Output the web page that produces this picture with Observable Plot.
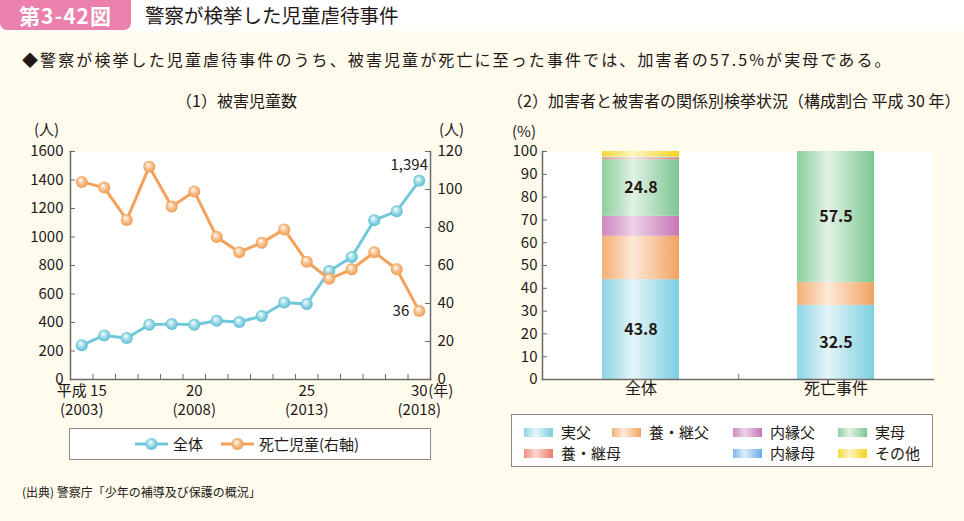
<!DOCTYPE html>
<html><head><meta charset="utf-8">
<script src="https://cdn.jsdelivr.net/npm/d3@7"></script>
<script src="https://cdn.jsdelivr.net/npm/@observablehq/plot@0.6"></script>
<style>
body{margin:0;width:964px;height:521px;background:#fffcee;font-family:"Noto Sans CJK JP","Noto Sans",sans-serif;position:relative;overflow:hidden;color:#231815}
.abs{position:absolute;white-space:nowrap;line-height:1}
#topband{left:0;top:0;width:964px;height:31px;background:#fff}
#badge{left:0;top:-6px;width:131px;height:36px;background:#ea80ab;border-radius:7px;color:#fff;font-weight:700;font-size:21px;letter-spacing:1px;text-align:center;line-height:42px}
#title{left:145px;top:5px;font-size:19.5px;font-weight:400}
#lead{left:22px;top:51px;font-size:16px;letter-spacing:2.1px}
.ptitle{font-size:16px;top:92px}
.unit{font-size:15px}
.legend{background:#fff;border:1px solid #8a8a8a;box-sizing:border-box}
.sw{position:absolute;width:29px;height:9px}
.lt{position:absolute;font-size:15px;line-height:1}
#src{left:22px;top:486px;font-size:12px}
</style></head>
<body>
<svg width="0" height="0" style="position:absolute">
 <defs id="defs"></defs>
</svg>
<div class="abs" id="topband"></div>
<div class="abs" id="badge">第3-42図</div>
<div class="abs" id="title">警察が検挙した児童虐待事件</div>
<div class="abs" id="lead">◆警察が検挙した児童虐待事件のうち、被害児童が死亡に至った事件では、加害者の57.5%が実母である。</div>
<div class="abs ptitle" style="left:176px">（1）被害児童数</div>
<div class="abs ptitle" style="left:507px">（2）加害者と被害者の関係別検挙状況（構成割合 平成 30 年）</div>
<div class="abs unit" style="left:34px;top:121px">(人)</div>
<div class="abs unit" style="left:439px;top:121px">(人)</div>
<div class="abs unit" style="left:512px;top:123px">(%)</div>
<div class="abs" id="left" style="left:0;top:110px"></div>
<div class="abs" id="right" style="left:490px;top:110px"></div>
<div class="abs legend" id="legL" style="left:69px;top:428px;width:362px;height:32px"></div>
<div class="abs legend" id="legR" style="left:511px;top:414px;width:422px;height:53px"></div>
<div class="abs" id="src">(出典) 警察庁「少年の補導及び保護の概況」</div>
<script>
// ---------- data ----------
const years = [2003,2004,2005,2006,2007,2008,2009,2010,2011,2012,2013,2014,2015,2016,2017,2018];
const totalVictims = [241,309,291,384,389,384,412,403,445,541,530,761,860,1118,1181,1394];
const deathVictims = [104,101,84,112,91,99,75,67,72,79,62,53,58,67,58,36];
const leftTicks = [0,200,400,600,800,1000,1200,1400,1600];
const rightTicks = [0,20,40,60,80,100,120];
const xLabelYears = [2003,2008,2013,2018];
const xLabelEra = ["平成 15","20","25","30"];
const xLabelWestern = ["(2003)","(2008)","(2013)","(2018)"];
const lineSeries = ["全体","死亡児童(右軸)"];

const groups = ["全体","死亡事件"];
const series = ["実父","養・継父","内縁父","実母","養・継母","内縁母","その他"];
const shareAll = [43.8,19.0,8.8,24.8,0.7,0.4,2.5];
const shareDeath = [32.5,10.0,0,57.5,0,0,0];
const pctTicks = [0,10,20,30,40,50,60,70,80,90,100];

// ---------- styles ----------
const seriesColors = {
  "実父":["#7ccee0","#e4f5f8"],
  "養・継父":["#f2a25f","#fde9d8"],
  "内縁父":["#c875b4","#edd2e8"],
  "実母":["#7cc791","#e2f2e5"],
  "養・継母":["#ec7a68","#fbd9d3"],
  "内縁母":["#68abe6","#deeefb"],
  "その他":["#f8d21a","#fdf4c2"]
};
const defs = document.getElementById("defs");
let defsHtml = "";
series.forEach((s,i)=>{
  const [c,l] = seriesColors[s];
  defsHtml += `<linearGradient id="g${i}" x1="0" x2="1" y1="0" y2="0"><stop offset="0" stop-color="${c}" stop-opacity="0.85"/><stop offset="0.4" stop-color="${l}"/><stop offset="1" stop-color="${c}"/></linearGradient>`;
});
defsHtml += `<radialGradient id="rb" cx="0.5" cy="0.5" r="0.55" fx="0.38" fy="0.32"><stop offset="0" stop-color="#ffffff"/><stop offset="0.45" stop-color="#a6dfea"/><stop offset="1" stop-color="#4fb8cf"/></radialGradient>`;
defsHtml += `<radialGradient id="ro" cx="0.5" cy="0.5" r="0.55" fx="0.38" fy="0.32"><stop offset="0" stop-color="#ffffff"/><stop offset="0.45" stop-color="#f9c796"/><stop offset="1" stop-color="#f0944a"/></radialGradient>`;
defs.innerHTML = defsHtml;
const gradOf = Object.fromEntries(series.map((s,i)=>[s,`url(#g${i})`]));

const font = `"Noto Sans CJK JP","Noto Sans",sans-serif`;
const axisColor = "#6b6b6b";
const blue = "#72c8da", orange = "#f4a25a";

// ---------- left chart ----------
const k = 1600/120;
const lineData = years.map((y,i)=>({year:y,total:totalVictims[i],death:deathVictims[i]}));
const boundaries = years.slice(0,-1).map(y=>y+0.5);
const LW = 480, LH = 310, lm = {l:70,r:50,t:41,b:41};
const lpw = LW-lm.l-lm.r, lph = LH-lm.t-lm.b;
const xl = xLabelYears.map((y,i)=>({year:y,era:xLabelEra[i],west:xLabelWestern[i]}));
const last = lineData[lineData.length-1];

const left = Plot.plot({
  width:LW,height:LH,marginLeft:lm.l,marginRight:lm.r,marginTop:lm.t,marginBottom:lm.b,
  style:{background:"transparent",fontFamily:font,fontSize:"15px",color:"#231815",overflow:"visible"},
  x:{domain:[years[0]-0.5,years[years.length-1]+0.5],axis:null},
  y:{domain:[0,1600],axis:null},
  marks:[
    Plot.frame({fill:"white",stroke:null}),
    Plot.tickX(boundaries,{x:d=>d,insetTop:lph-5,stroke:axisColor}),
    Plot.tickY(leftTicks,{y:d=>d,insetRight:lpw-5,stroke:axisColor}),
    Plot.tickY(rightTicks,{y:d=>d*k,insetLeft:lpw-5,stroke:axisColor}),
    Plot.frame({anchor:"left",stroke:axisColor,strokeWidth:1.5}),
    Plot.frame({anchor:"right",stroke:axisColor,strokeWidth:1.5}),
    Plot.frame({anchor:"bottom",stroke:axisColor,strokeWidth:1.5}),
    Plot.axisY({anchor:"left",ticks:leftTicks,tickFormat:d=>String(d),tickSize:0,tickPadding:7,fontSize:15,label:null}),
    Plot.axisY({anchor:"right",ticks:rightTicks.map(v=>v*k),tickFormat:v=>String(Math.round(v/k)),tickSize:0,tickPadding:7,fontSize:15,label:null}),
    Plot.text(xl,{x:"year",text:"era",frameAnchor:"bottom",dy:16,fontSize:15}),
    Plot.text(xl,{x:"year",text:"west",frameAnchor:"bottom",dy:35,fontSize:15}),
    Plot.text([xl[xl.length-1]],{x:"year",text:()=>"(年)",frameAnchor:"bottom",dy:16,dx:9,textAnchor:"start",fontSize:15}),
    Plot.line(lineData,{x:"year",y:"total",stroke:blue,strokeWidth:3}),
    Plot.dot(lineData,{x:"year",y:"total",r:6,fill:"url(#rb)",stroke:null}),
    Plot.line(lineData,{x:"year",y:d=>d.death*k,stroke:orange,strokeWidth:3}),
    Plot.dot(lineData,{x:"year",y:d=>d.death*k,r:6,fill:"url(#ro)",stroke:null}),
    Plot.text([last],{x:"year",y:"total",text:d=>d3.format(",")(d.total),dy:-16,dx:-10,fontSize:15}),
    Plot.text([last],{x:"year",y:d=>d.death*k,text:d=>String(d.death),dx:-10,textAnchor:"end",fontSize:15})
  ]
});
document.getElementById("left").append(left);

// ---------- right chart ----------
const rows = [];
groups.forEach((g,gi)=>{
  const vals = gi===0?shareAll:shareDeath;
  series.forEach((s,si)=>rows.push({group:g,series:s,value:vals[si]}));
});
const RW = 460, RH = 300, rm = {l:52,r:17,t:41,b:31};
const rpw = RW-rm.l-rm.r, rph = RH-rm.t-rm.b;
const pin = 0.606, pout = pin/2;
const step = rpw/(groups.length - pin + 2*pout);
const right = Plot.plot({
  width:RW,height:RH,marginLeft:rm.l,marginRight:rm.r,marginTop:rm.t,marginBottom:rm.b,
  style:{background:"transparent",fontFamily:font,fontSize:"15px",color:"#231815",overflow:"visible"},
  x:{domain:groups,paddingInner:pin,paddingOuter:pout,axis:null},
  y:{domain:[0,100],axis:null},
  marks:[
    Plot.frame({fill:"white",stroke:null}),
    Plot.barY(rows,Plot.stackY({x:"group",y:"value",z:"series",order:series,fill:d=>gradOf[d.series]})),
    Plot.tickY(pctTicks,{y:d=>d,insetRight:rpw-5,stroke:axisColor}),
    Plot.tickX([groups[0]],{x:d=>d,dx:step/2,insetTop:rph-5,stroke:axisColor}),
    Plot.frame({anchor:"left",stroke:axisColor,strokeWidth:1.5}),
    Plot.frame({anchor:"bottom",stroke:axisColor,strokeWidth:1.5}),
    Plot.axisY({anchor:"left",ticks:pctTicks,tickSize:0,tickPadding:5,fontSize:15,label:null}),
    Plot.text(groups,{x:d=>d,frameAnchor:"bottom",dy:14,fontSize:16}),
    Plot.text(rows,Plot.stackY({x:"group",y:"value",z:"series",order:series,text:d=>d.value>=20?d.value.toFixed(1):"",fontSize:16,fontWeight:600}))
  ]
});
document.getElementById("right").append(right);

// ---------- legends ----------
const legL = document.getElementById("legL");
const lineLeg = [{x:65,color:blue,grad:"url(#rb)"},{x:151,color:orange,grad:"url(#ro)"}];
lineSeries.forEach((name,i)=>{
  const it = lineLeg[i];
  const s = document.createElementNS("http://www.w3.org/2000/svg","svg");
  s.setAttribute("width",34);s.setAttribute("height",14);
  s.style.position="absolute";s.style.left=it.x+"px";s.style.top="8px";
  s.innerHTML=`<line x1="0" x2="33" y1="7" y2="7" stroke="${it.color}" stroke-width="3"/><circle cx="16.5" cy="7" r="6" fill="${it.grad}"/>`;
  legL.append(s);
  const t = document.createElement("div");
  t.className="lt";t.textContent=name;t.style.left=(it.x+38)+"px";t.style.top="7px";
  legL.append(t);
});
const legR = document.getElementById("legR");
const legPos = {"実父":[12,0],"養・継父":[100,0],"内縁父":[221,0],"実母":[326,0],"養・継母":[12,1],"内縁母":[221,1],"その他":[326,1]};
series.forEach((s,i)=>{
  const [x,row] = legPos[s];
  const top = row===0?12:33;
  const sw = document.createElement("div");
  sw.className="sw";sw.style.left=x+"px";sw.style.top=(top+1)+"px";
  const [c,l] = seriesColors[s];
  sw.style.background=`linear-gradient(to right, ${c}d9, ${l} 40%, ${c})`;
  legR.append(sw);
  const t = document.createElement("div");
  t.className="lt";t.textContent=s;t.style.left=(x+37)+"px";t.style.top=(top-3)+"px";
  legR.append(t);
});
</script>
</body></html>
